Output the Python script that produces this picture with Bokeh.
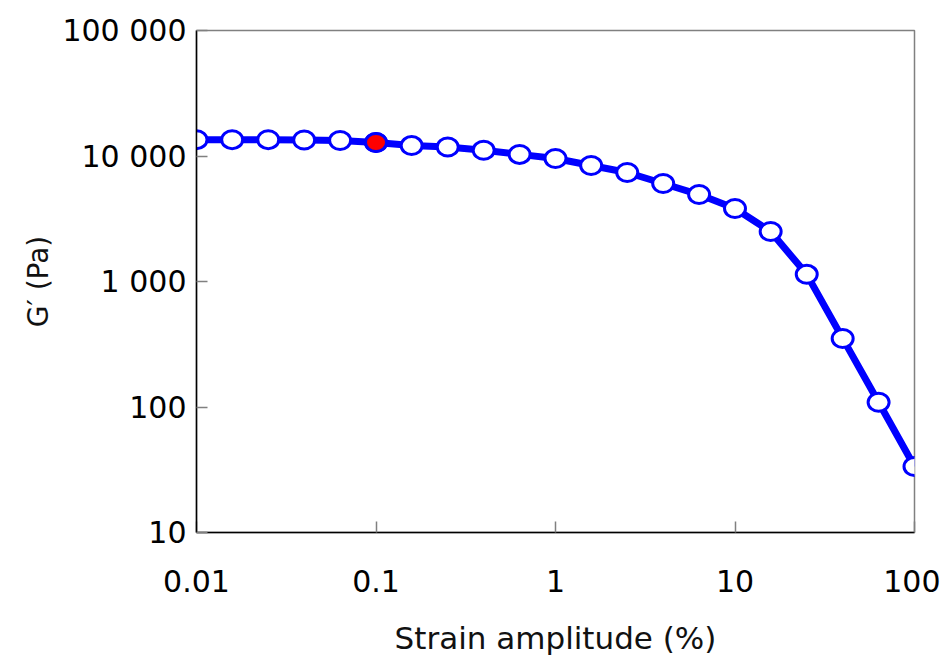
from bokeh.plotting import figure
from bokeh.models import FixedTicker, ColumnDataSource
from bokeh.embed import file_html
from bokeh.resources import INLINE

# Data
strain = [0.01, 0.0158, 0.0251, 0.0398, 0.0631, 0.1, 0.158, 0.251, 0.398, 0.631,
          1.0, 1.58, 2.51, 3.98, 6.31, 10.0, 15.8, 25.1, 39.8, 63.1, 100.0]
g_prime = [13500, 13500, 13500, 13400, 13300, 12800, 12100, 11800, 11100, 10300,
           9550, 8400, 7390, 6040, 4930, 3820, 2500, 1140, 352, 109, 33.6]
highlight_x = [0.1]
highlight_y = [12800]

x_ticks = [0.01, 0.1, 1, 10, 100]
x_tick_labels = ["0.01", "0.1", "1", "10", "100"]
y_ticks = [10, 100, 1000, 10000, 100000]
y_tick_labels = ["10", "100", "1 000", "10 000", "100 000"]

FONT = "DejaVu Sans"

p = figure(width=940, height=658, x_axis_type="log", y_axis_type="log",
           x_range=(0.01, 100), y_range=(10, 100000),
           output_backend="svg", toolbar_location=None,
           min_border_left=196, min_border_right=26,
           min_border_top=30, min_border_bottom=126)
p.grid.visible = False
p.outline_line_color = "#808080"
p.outline_line_width = 1.5

src = ColumnDataSource(dict(x=strain, y=g_prime))
p.line("x", "y", source=src, line_color="#0000FF", line_width=7)
p.ellipse("x", "y", source=src, width=21, height=18, width_units="screen",
          height_units="screen", fill_color="white", line_color="#0000FF", line_width=3)
p.ellipse(highlight_x, highlight_y, width=21, height=18, width_units="screen",
          height_units="screen", fill_color="#FF0000", line_color="#0000FF", line_width=3)

for ax, ticks, labels in ((p.xaxis[0], x_ticks, x_tick_labels), (p.yaxis[0], y_ticks, y_tick_labels)):
    ax.ticker = FixedTicker(ticks=ticks, minor_ticks=[])
    ax.major_label_overrides = {t: l for t, l in zip(ticks, labels)}
    ax.major_tick_in = 11
    ax.major_tick_out = 0
    ax.major_tick_line_color = "#808080"
    ax.major_tick_line_width = 1.5
    ax.minor_tick_line_color = None
    ax.axis_line_color = "black"
    ax.axis_line_width = 1.5
    ax.major_label_text_font = FONT
    ax.major_label_text_font_size = "30px"
    ax.major_label_text_color = "black"
    ax.axis_label_text_font = FONT
    ax.axis_label_text_font_style = "normal"
    ax.axis_label_text_color = "#111111"

p.xaxis.axis_label = "Strain amplitude (%)"
p.yaxis.axis_label = "G\u2032 (Pa)"
p.xaxis.axis_label_text_font_size = "31px"
p.yaxis.axis_label_text_font_size = "28px"
p.xaxis.major_label_standoff = 37
p.yaxis.major_label_standoff = 10
p.xaxis.axis_label_standoff = 25
p.yaxis.axis_label_standoff = 4

open("out.html", "w").write(file_html(p, INLINE))
